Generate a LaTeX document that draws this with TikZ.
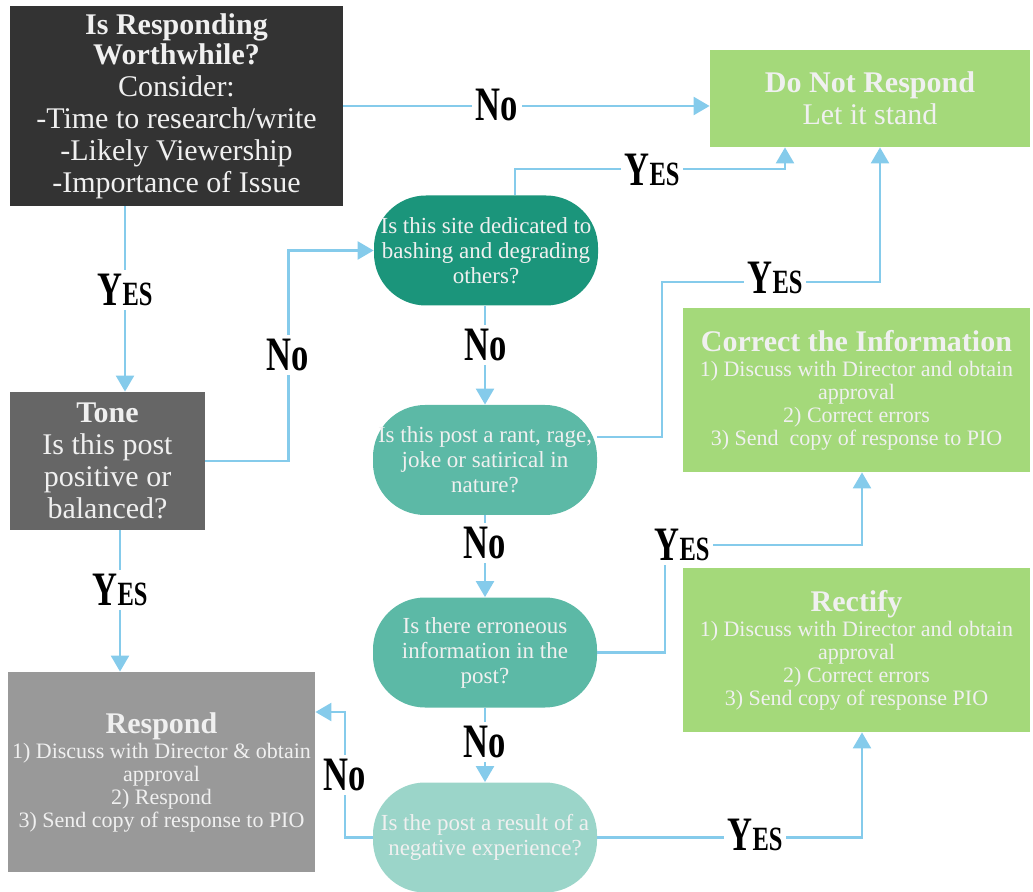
\documentclass[tikz,border=0pt]{standalone}
\usepackage{fontspec}
\setmainfont{Liberation Serif}
\newfontfamily\lblfont[FakeStretch=0.72]{Liberation Serif}
\usetikzlibrary{arrows.meta}
\definecolor{flowblue}{HTML}{85CBEB}
\definecolor{boxdark}{HTML}{333333}
\definecolor{boxmid}{HTML}{666666}
\definecolor{boxlight}{HTML}{999999}
\definecolor{boxgreen}{HTML}{A4D97A}
\definecolor{qone}{HTML}{1B957B}
\definecolor{qtwo}{HTML}{5CB9A6}
\definecolor{qfour}{HTML}{9BD5C9}
\newcommand{\yes}{Y{\fontsize{17}{17}\selectfont ES}}
\newcommand{\ttl}[1]{\textbf{\fontsize{15}{16}\selectfont #1}}
\tikzset{
  blk/.style={inner sep=2pt, align=center, text=white!94!black},
  grbox/.style={blk, fill=boxgreen, minimum width=173.5pt, minimum height=82pt, font=\fontsize{11}{11.5}\selectfont},
  ques/.style={blk, rounded corners=26pt, minimum width=112pt, minimum height=55pt, font=\fontsize{11.5}{12.5}\selectfont},
  flow/.style={draw=flowblue, line width=1.2pt, -{Triangle[length=8pt,width=9pt]}},
  lbl/.style={fill=white, inner sep=2pt, font=\lblfont\bfseries\fontsize{24}{24}\selectfont}
}
\begin{document}
\begin{tikzpicture}[x=0.5pt,y=-0.5pt]
\useasboundingbox (0,0) rectangle (1033,892);
% boxes
\node[blk, fill=boxdark, minimum width=166.5pt, minimum height=100pt, font=\fontsize{15}{16}\selectfont] (worth) at (176.5,106)
  {\textbf{Is Responding}\\[-1pt]\textbf{Worthwhile?}\\Consider:\\-Time to research/write\\-Likely Viewership\\-Importance of Issue};
\node[blk, fill=boxgreen, minimum width=160pt, minimum height=48.5pt, font=\fontsize{15}{16}\selectfont] (dnr) at (870,98.5)
  {\textbf{Do Not Respond}\\Let it stand};
\node[blk, fill=boxmid, minimum width=97.5pt, minimum height=69pt, font=\fontsize{15}{16}\selectfont] (tone) at (107.5,461)
  {\textbf{Tone}\\Is this post\\positive or\\balanced?};
\node[blk, fill=boxlight, minimum width=153.5pt, minimum height=100pt, font=\fontsize{11}{11.5}\selectfont] (respond) at (161.5,772)
  {\ttl{Respond}\\[1pt]1) Discuss with Director \& obtain\\approval\\2) Respond\\3) Send copy of response to PIO};
\node[ques, fill=qone] (q1) at (486,250.5) {Is this site dedicated to\\bashing and degrading\\others?};
\node[ques, fill=qtwo] (q2) at (485,460) {Is this post a rant, rage,\\joke or satirical in\\nature?};
\node[ques, fill=qtwo] (q3) at (485,652.5) {Is there erroneous\\information in the\\post?};
\node[ques, fill=qfour] (q4) at (485,837.5) {Is the post a result of a\\negative experience?};
\node[grbox] (correct) at (856.5,390)
  {\ttl{Correct the Information}\\[1pt]1) Discuss with Director and obtain\\approval\\2) Correct errors\\3) Send \ copy of response to PIO};
\node[grbox] (rectify) at (856.5,650)
  {\ttl{Rectify}\\[1pt]1) Discuss with Director and obtain\\approval\\2) Correct errors\\3) Send copy of response PIO};
% connectors
\coordinate (c1) at (125,0);
\coordinate (c2) at (785,0);
\coordinate (c3) at (880,0);
\coordinate (c4) at (862,0);
\coordinate (c5) at (0,712);
\coordinate (c6) at (120,0);
\draw[flow] (worth.east) -- (worth.east -| dnr.west);
\draw[flow] (worth.south -| c1) -- (tone.north -| c1);
\draw[flow] (tone.east) -- ++(83,0) |- (q1.west);
\draw[flow] ([xshift=14.5pt]q1.north) -- ++(0,-26) -| (dnr.south -| c2);
\draw[flow] (q1.south -| q2.north) -- (q2.north);
\draw[flow] ([yshift=11.5pt]q2.east) -| (662,282) -| (dnr.south -| c3);
\draw[flow] (q2.south) -- (q3.north);
\draw[flow] (q3.east) -| (665,545) -| (correct.south -| c4);
\draw[flow] (q3.south) -- (q4.north);
\draw[flow] (q4.west) -| (345,712) -- (respond.east |- c5);
\draw[flow] (q4.east) -| (rectify.south -| c4);
\draw[flow] (tone.south -| c6) -- (respond.north -| c6);
% labels
\node[lbl] (no1) at (497,105) {No};
\node[lbl] (yes1) at (652,170) {\yes};
\node[lbl] (yes2) at (125,290) {\yes};
\node[lbl] (no2) at (288,355) {No};
\node[lbl] (no3) at (486,345) {No};
\node[lbl] (yes3) at (775,278) {\yes};
\node[lbl] (no4) at (485,543) {No};
\node[lbl] (yes4) at (682,545) {\yes};
\node[lbl] (no5) at (485,742) {No};
\node[lbl] (no6) at (345,775) {No};
\node[lbl] (yes5) at (755,835) {\yes};
\node[lbl] (yes6) at (120,590) {\yes};
\end{tikzpicture}
\end{document}
